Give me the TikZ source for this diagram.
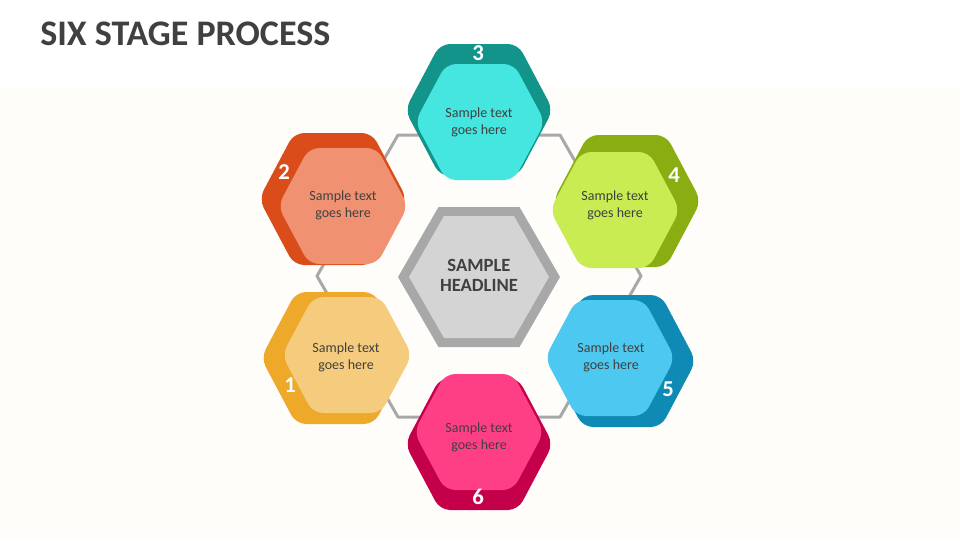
\documentclass[tikz,border=0pt]{standalone}
\usepackage{fontspec}
\setmainfont{Carlito}

\definecolor{txtgray}{RGB}{64,64,64}
\definecolor{linegray}{RGB}{168,168,168}
\definecolor{headfill}{RGB}{212,212,212}
\definecolor{cream}{RGB}{254,253,250}
\definecolor{orangeD}{RGB}{238,168,42}
\definecolor{orangeL}{RGB}{245,203,125}
\definecolor{redD}{RGB}{218,77,27}
\definecolor{redL}{RGB}{240,145,114}
\definecolor{tealD}{RGB}{18,148,138}
\definecolor{tealL}{RGB}{69,230,223}
\definecolor{limeD}{RGB}{138,174,18}
\definecolor{limeL}{RGB}{200,236,82}
\definecolor{blueD}{RGB}{14,138,181}
\definecolor{blueL}{RGB}{77,200,240}
\definecolor{pinkD}{RGB}{197,0,75}
\definecolor{pinkL}{RGB}{255,63,133}

\tikzset{
  hexbox/.style={rounded corners=7.5pt},
  body/.style={inner sep=0.75pt, align=center, text=txtgray, font=\fontsize{10.5}{12.8}\selectfont},
  numtxt/.style={inner sep=0.75pt, text=white, font=\bfseries\fontsize{17}{17}\selectfont},
}
% hexagon: centre x, centre y, half width, half top edge, half height
\newcommand{\hexat}[5]{({#1-#3},#2) -- ({#1-#4},{#2-#5}) -- ({#1+#4},{#2-#5}) -- ({#1+#3},#2) -- ({#1+#4},{#2+#5}) -- ({#1-#4},{#2+#5}) -- cycle}

\begin{document}
\begin{tikzpicture}[x=0.75pt,y=0.75pt,yscale=-1,xscale=1]
\useasboundingbox (0,0) rectangle (960,540);

%Background
\fill[white] (0,0) rectangle (960,540);
\fill[cream] (0,88) rectangle (960,540);

% Text Node
\node (title) at (40,45) [anchor=base west, inner sep=0pt, text=txtgray, font=\bfseries\fontsize{27}{27}\selectfont] {SIX STAGE PROCESS};

%Shape: big outline hexagon
\draw[linegray, line width=2.25pt, line join=round] \hexat{479}{276}{162}{81}{141};

%Shape: centre hexagon
\fill[linegray] \hexat{479}{277}{81}{40.5}{70};
\fill[headfill] \hexat{479}{277}{70}{35}{61};
% Text Node
\node (head) at (479,275) [inner sep=0.75pt, align=center, text=txtgray, font=\bfseries\fontsize{14}{15}\selectfont] {SAMPLE\\HEADLINE};

%Shape: stage 1
\fill[hexbox, orangeD] \hexat{335}{358}{74}{39}{66};
\fill[hexbox, orangeL] \hexat{347}{355}{65}{34}{58};
%Shape: stage 2
\fill[hexbox, redD] \hexat{333}{199}{74}{39}{66};
\fill[hexbox, redL] \hexat{343}{206}{65}{34}{58};
%Shape: stage 3
\fill[hexbox, tealD] \hexat{479}{110}{74}{39}{66};
\fill[hexbox, tealL] \hexat{480}{122}{65}{34}{58};
%Shape: stage 4
\fill[hexbox, limeD] \hexat{627}{201}{74}{39}{66};
\fill[hexbox, limeL] \hexat{615}{210}{65}{34}{58};
%Shape: stage 5
\fill[hexbox, blueD] \hexat{622}{361}{74}{39}{66};
\fill[hexbox, blueL] \hexat{610}{358}{65}{34}{58};
%Shape: stage 6
\fill[hexbox, pinkD] \hexat{479}{444}{74}{39}{66};
\fill[hexbox, pinkL] \hexat{479}{432}{65}{34}{58};

% Text Node
\node (txt1) at (346,357) [body] {Sample text\\goes here};
\node (txt2) at (343,205) [body] {Sample text\\goes here};
\node (txt3) at (479,122) [body] {Sample text\\goes here};
\node (txt4) at (615,205) [body] {Sample text\\goes here};
\node (txt5) at (611,357) [body] {Sample text\\goes here};
\node (txt6) at (479,437) [body] {Sample text\\goes here};

% Text Node
\node (num1) at (290,385) [numtxt] {1};
\node (num2) at (284,172) [numtxt] {2};
\node (num3) at (478,53) [numtxt] {3};
\node (num4) at (674,175) [numtxt] {4};
\node (num5) at (668,389) [numtxt] {5};
\node (num6) at (478,497) [numtxt] {6};

\end{tikzpicture}
\end{document}
